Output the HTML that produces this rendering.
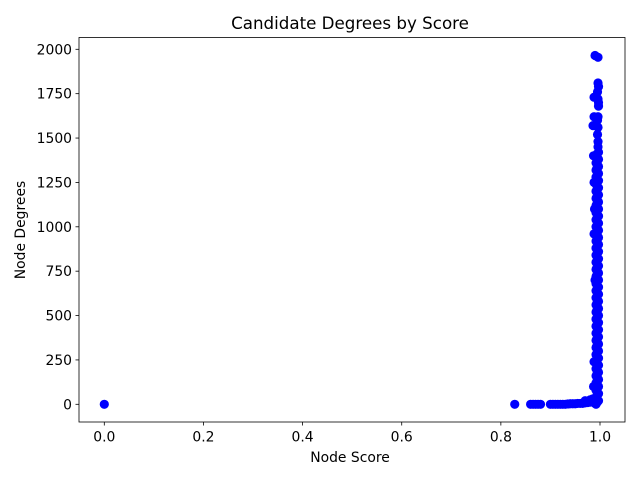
<!DOCTYPE html>
<html><head><meta charset="utf-8"><style>
body{margin:0;background:#fff;}
svg text{font-family:"DejaVu Sans","Liberation Sans",sans-serif;fill:#000;}
</style></head><body>
<svg id="chart" width="640" height="480" xmlns="http://www.w3.org/2000/svg">
<rect width="640" height="480" fill="#fff"/>
<text x="350" y="29" font-size="16.7" text-anchor="middle">Candidate Degrees by Score</text>
<g id="marks"></g>
<g id="axes"></g>
<text x="350" y="462" font-size="13.9" text-anchor="middle">Node Score</text>
<text transform="translate(25,230) rotate(-90)" font-size="13.9" text-anchor="middle">Node Degrees</text>
</svg>
<script>
const xTicks=[0,0.2,0.4,0.6,0.8,1.0];
const xTickLabels=["0.0","0.2","0.4","0.6","0.8","1.0"];
const yTicks=[0,250,500,750,1000,1250,1500,1750,2000];
const colScoresA=[0.992,0.992,0.992,0.992,0.992,0.992,0.992,0.992,0.992,0.992,0.992,0.992,0.992,0.992,0.992,0.992,0.992,0.992,0.992,0.992,0.992,0.992,0.992,0.992,0.992,0.992,0.992,0.992,0.992,0.992,0.992,0.992,0.992,0.992,0.992,0.992];
const colDegreesA=[0,40,80,120,160,200,240,280,320,360,400,440,480,520,560,600,640,680,720,760,800,840,880,920,960,1000,1040,1080,1120,1160,1200,1240,1280,1320,1360,1400];
const colScoresB=[0.997,0.997,0.997,0.997,0.997,0.997,0.997,0.997,0.997,0.997,0.997,0.997,0.997,0.997,0.997,0.997,0.997,0.997,0.997,0.997,0.997,0.997,0.997,0.997,0.997,0.997,0.997,0.997,0.997,0.997,0.997,0.997,0.997,0.997,0.997,0.997];
const colDegreesB=[20,60,100,140,180,220,260,300,340,380,420,460,500,540,580,620,660,700,740,780,820,860,900,940,980,1020,1060,1100,1140,1180,1220,1260,1300,1340,1380,1420];
const colScoresC=[0.994,0.994,0.994,0.994,0.994,0.994,0.994,0.994,0.994,0.994,0.994,0.994,0.994,0.994,0.994,0.994,0.994,0.994,0.994,0.994,0.994,0.994,0.994,0.994,0.994,0.994,0.994,0.994,0.994,0.994,0.994,0.994,0.994,0.994,0.994,0.994];
const colDegreesC=[10,50,90,130,170,210,250,290,330,370,410,450,490,530,570,610,650,690,730,770,810,850,890,930,970,1010,1050,1090,1130,1170,1210,1250,1290,1330,1370,1410];
const topScores=[0.996,0.996,0.995,0.996,0.995,0.996,0.997,0.996,0.995,0.997,0.996,0.997,0.990,0.996,0.988,0.986,0.988,0.987,0.988,0.989,0.988,0.990,0.988,0.987];
const topDegrees=[1450,1480,1520,1560,1600,1620,1680,1720,1760,1790,1810,1700,1965,1955,1730,1570,1620,1400,1250,1100,960,700,240,100];
const bandScores=[0.0,0.828,0.86,0.865,0.87,0.875,0.88,0.9,0.905,0.91,0.915,0.92,0.925,0.93,0.935,0.94,0.945,0.95,0.955,0.96,0.965,0.97,0.975,0.98,0.985,0.97,0.98,0.985,0.99,0.99];
const bandDegrees=[0,0,0,0,0,0,0,0,0,0,0,0,0,0,2,3,3,3,5,5,5,8,10,12,15,20,25,30,5,15];

const NS='http://www.w3.org/2000/svg';
const L=79,R=625,T=37.5,B=422;
function sx(v){return 104.3+v*(600-104.3);}
function sy(v){return 404.3-v*(404.3-49.3)/2000;}
const marks=document.getElementById('marks');
function draw(xs,ys){
 for(let i=0;i<xs.length;i++){
  const c=document.createElementNS(NS,'circle');
  c.setAttribute('cx',sx(xs[i]));c.setAttribute('cy',sy(ys[i]));c.setAttribute('r',4.6);
  c.setAttribute('fill','#0000ff');
  
  
  marks.appendChild(c);
 }
}
draw(bandScores,bandDegrees);
draw(colScoresA,colDegreesA);
draw(colScoresB,colDegreesB);
draw(colScoresC,colDegreesC);
draw(topScores,topDegrees);
const ax=document.getElementById('axes');
let h='<rect x="'+L+'" y="'+T+'" width="'+(R-L)+'" height="'+(B-T)+'" fill="none" stroke="#000" stroke-width="0.8"/>';
xTicks.forEach((t,i)=>{const x=sx(t);h+='<line x1="'+x+'" x2="'+x+'" y1="'+B+'" y2="'+(B+3.5)+'" stroke="#000" stroke-width="0.8"/><text x="'+x+'" y="'+(B+19.5)+'" font-size="13.9" text-anchor="middle">'+xTickLabels[i]+'</text>';});
yTicks.forEach(t=>{const y=sy(t);h+='<line x1="'+(L-3.5)+'" x2="'+L+'" y1="'+y+'" y2="'+y+'" stroke="#000" stroke-width="0.8"/><text x="'+(L-7)+'" y="'+(y+5)+'" font-size="13.9" text-anchor="end">'+t+'</text>';});
ax.innerHTML=h;
</script>
</body></html>
